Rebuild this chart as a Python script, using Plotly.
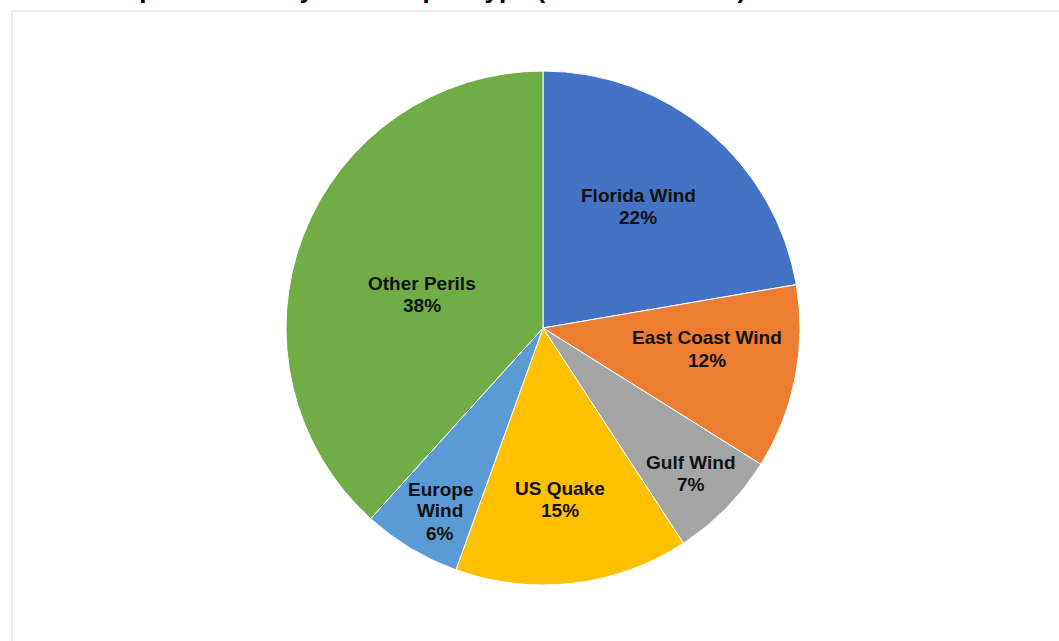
import plotly.graph_objects as go

# ---- data ----
categories = ["Florida Wind", "East Coast Wind", "Gulf Wind", "US Quake", "Europe Wind", "Other Perils"]
shares = [22.3, 11.6, 6.9, 14.7, 6.2, 38.3]
label_lines = [["Florida Wind"], ["East Coast Wind"], ["Gulf Wind"], ["US Quake"], ["Europe", "Wind"], ["Other Perils"]]
title_text = "Chart 1: Exposed limit by catastrophe type (at 30 June 2018)"

# ---- styling ----
colors = ["#4472C4", "#ED7D31", "#A5A5A5", "#FFC000", "#5B9BD5", "#70AD47"]
W, H = 1059, 641
# label centres in pixels (placement only)
label_px = [(638, 206), (707, 349), (691, 473), (560, 499), (440, 511), (422, 294)]
line_gap = 22
font_family = "Liberation Sans, Arial, sans-serif"

cx, cy, r = 543, 328, 257

fig = go.Figure(go.Pie(
    labels=categories,
    values=shares,
    sort=False,
    direction="clockwise",
    rotation=0,
    marker=dict(colors=colors, line=dict(color="#FFFFFF", width=1)),
    textinfo="none",
    hoverinfo="label+percent",
    showlegend=False,
    domain=dict(x=[(cx - r) / W, (cx + r) / W], y=[1 - (cy + r) / H, 1 - (cy - r) / H]),
))

total = sum(shares)
annotations = []
for lines, v, (px, py) in zip(label_lines, shares, label_px):
    all_lines = lines + [f"{round(v / total * 100)}%"]
    n = len(all_lines)
    for i, ln in enumerate(all_lines):
        ly = py + (i - (n - 1) / 2) * line_gap
        annotations.append(dict(
            text=f"<b>{ln}</b>",
            x=px / W, y=1 - ly / H, xref="paper", yref="paper",
            xanchor="center", yanchor="middle", showarrow=False,
            font=dict(family=font_family, size=19, color="#111111"),
        ))

annotations.append(dict(
    text=f"<b>{title_text}</b>",
    x=0, y=1 - 6 / H, xref="paper", yref="paper",
    xanchor="left", yanchor="bottom", showarrow=False,
    font=dict(family=font_family, size=26, color="#000000"),
))

fig.update_layout(
    width=W, height=H,
    margin=dict(l=0, r=0, t=0, b=0),
    paper_bgcolor="#FFFFFF",
    plot_bgcolor="#FFFFFF",
    annotations=annotations,
    shapes=[dict(type="rect", xref="paper", yref="paper",
                 x0=12 / W, x1=1.01, y0=-0.01, y1=1 - 11 / H,
                 line=dict(color="#D9D9D9", width=1), fillcolor="rgba(0,0,0,0)")],
)

fig.write_html("out.html", config={"displayModeBar": False},
               post_script="document.body.style.margin='0';document.body.style.overflow='hidden';")
